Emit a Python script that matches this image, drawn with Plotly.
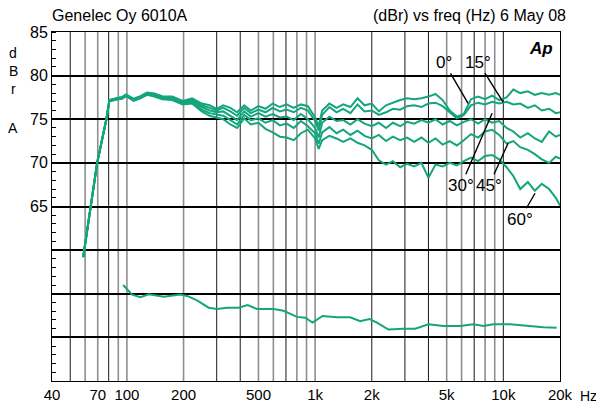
import numpy as np
import plotly.graph_objects as go

# ---------------- data ----------------
freq_hz = [58.6, 69.5, 77.8, 80.7, 88.7, 94.3, 99, 108.6, 118, 128, 140, 154, 174, 198, 222, 250, 275,
           300, 325, 355, 385, 420, 455, 500, 545, 595, 650, 705, 770, 840, 915, 1000, 1045, 1090,
           1190, 1300, 1410, 1540, 1680, 1830, 2000, 2180, 2380, 2590, 2830, 3080, 3360, 3670, 4000,
           4360, 4760, 5190, 5660, 6170, 6730, 7340, 8000, 8720, 9510, 10400, 11300, 12300, 13500,
           14700, 16000, 17500, 19000, 20000]

db_0deg = [59.2, 70.0, 75.0, 77.2, 77.45, 77.55, 77.85, 77.35, 77.65, 78.05, 77.95, 77.65, 77.6, 77.1, 77.4, 76.8, 76.6,
           76.2, 76.6, 76.3, 75.8, 76.6, 76.0, 76.5, 76.2, 76.8, 76.4, 76.7, 76.3, 76.7, 76.5, 75.2, 74.2, 76.0,
           76.8, 76.3, 76.7, 76.4, 77.4, 76.6, 76.8, 75.9, 76.6, 76.9, 77.2, 77.4, 77.3, 77.4, 77.6,
           77.9, 77.2, 76.0, 75.3, 75.6, 77.3, 77.6, 77.3, 77.7, 77.2, 77.5, 78.4, 78.0, 78.2,
           77.8, 78.0, 77.8, 78.0, 77.8]

db_15deg = [59.2, 70.0, 75.0, 77.2, 77.4, 77.5, 77.8, 77.3, 77.6, 78.0, 77.85, 77.55, 77.5, 77.0, 77.25, 76.6, 76.3,
            76.0, 76.3, 75.9, 75.4, 76.3, 75.7, 76.1, 75.8, 76.3, 75.9, 76.1, 75.8, 76.3, 76.0, 74.8, 73.7, 75.5,
            76.4, 75.8, 76.2, 75.7, 76.7, 75.9, 76.0, 75.5, 75.8, 76.2, 76.1, 76.5, 76.6, 76.4, 76.8,
            76.9, 76.5, 75.8, 75.1, 75.5, 76.6, 76.9, 76.7, 77.0, 76.8, 77.0, 76.7, 76.8, 76.3,
            76.6, 76.0, 76.2, 75.7, 75.8]

db_30deg = [59.2, 70.0, 75.0, 77.15, 77.35, 77.45, 77.75, 77.25, 77.55, 77.95, 77.8, 77.5, 77.4, 76.9, 77.1, 76.4, 76.0,
            75.8, 75.9, 75.4, 74.9, 75.9, 75.3, 75.7, 75.3, 75.6, 75.2, 75.3, 74.9, 75.6, 75.0, 74.0, 72.9, 74.6,
            75.3, 74.8, 74.9, 74.4, 75.0, 74.5, 74.2, 74.6, 74.0, 74.6, 74.2, 74.7, 74.5, 74.9, 74.6,
            75.0, 74.4, 74.8, 74.3, 74.7, 75.0, 74.5, 75.0, 74.6, 74.8, 74.0, 73.6, 72.9, 73.4,
            72.8, 72.4, 73.6, 73.0, 73.2]

db_45deg = [59.2, 70.0, 75.0, 77.1, 77.3, 77.4, 77.7, 77.2, 77.5, 77.9, 77.7, 77.4, 77.3, 76.8, 76.95, 76.1, 75.7,
            75.5, 75.4, 74.9, 74.4, 75.5, 74.9, 75.1, 74.6, 74.9, 74.3, 74.5, 74.0, 74.8, 74.2, 73.4, 72.2, 73.5,
            74.1, 73.4, 73.8, 73.2, 73.7, 73.1, 72.8, 73.2, 72.5, 73.0, 72.6, 72.9, 72.4, 72.9, 72.3,
            72.8, 72.1, 72.5, 72.0, 72.6, 73.3, 72.9, 73.6, 73.8, 73.2, 72.2, 72.5, 71.8, 71.5,
            71.0, 70.4, 70.0, 70.7, 70.5]

db_60deg = [59.2, 70.0, 75.0, 77.05, 77.25, 77.35, 77.65, 77.1, 77.4, 77.8, 77.6, 77.3, 77.2, 76.7, 76.8, 75.9, 75.4,
            75.2, 75.0, 74.4, 74.0, 75.1, 74.4, 74.6, 73.9, 73.5, 73.0, 72.9, 72.6, 73.4, 73.8, 72.8, 71.6, 72.6,
            73.1, 72.8, 72.4, 72.8, 72.3, 72.0, 71.5, 70.3, 69.8, 70.2, 69.5, 69.9, 69.6, 70.0, 68.3,
            69.8, 69.6, 70.0, 69.7, 70.2, 70.6, 70.2, 70.8, 70.9, 70.4, 69.5, 68.5, 67.0, 67.8,
            66.8, 67.6, 67.0, 66.0, 65.1]

lower_freq_hz = [95.5, 106.6, 118, 130.6, 156.8, 192.4, 208.8, 235.9, 271.9, 301.2, 340.4, 392.3, 438, 491.3,
                 601.7, 680, 800.8, 886.4, 969, 1095, 1306, 1536, 1736, 1945, 2129, 2453, 2947, 3401, 4000,
                 4805, 5893, 6933, 7836, 8852, 10860, 13320, 16310, 19200]
lower_db = [56.0, 54.9, 54.6, 54.95, 54.65, 54.9, 54.75, 54.25, 53.4, 53.25, 53.4, 53.4, 53.7, 53.25,
            53.25, 53.05, 52.35, 52.25, 51.7, 52.45, 52.3, 52.3, 51.85, 52.1, 51.7, 50.9, 51.0, 51.0, 51.5,
            51.3, 51.3, 51.5, 51.3, 51.5, 51.5, 51.3, 51.15, 51.1]

x_tick_vals = [40, 70, 100, 200, 500, 1000, 2000, 5000, 10000, 20000]
x_tick_text = ["40", "70", "100", "200", "500", "1k", "2k", "5k", "10k", "20k"]
y_tick_vals = [50, 55, 60, 65, 70, 75, 80, 85]
y_tick_text = ["", "", "", "65", "70", "75", "80", "85"]
grid_dark_hz = [50, 80, 300, 400, 700, 2000, 3000, 4000, 7000, 10000]
grid_light_hz = [60, 70, 90, 100, 200, 500, 600, 800, 900, 1000, 5000, 6000, 8000, 9000]

angle_labels = ["0°", "15°", "30°", "45°", "60°"]
label_tip_hz = [6497, 9967, 8716, 10597, 14737]
label_tip_db = [76.83, 76.95, 75.69, 72.25, 66.52]
label_dx = [-24, -25, -31, -19, -15]
label_dy = [-41, -40, 72, 42, 26]

# ---------------- figure ----------------
GREEN = "#14a57c"
FONT = "Liberation Sans, Arial, sans-serif"

fig = go.Figure()
for ys in [db_60deg, db_45deg, db_30deg, db_15deg, db_0deg]:
    fig.add_trace(go.Scatter(x=freq_hz, y=ys, mode="lines",
                             line=dict(color=GREEN, width=2), hoverinfo="skip"))
fig.add_trace(go.Scatter(x=lower_freq_hz, y=lower_db, mode="lines",
                         line=dict(color=GREEN, width=2), hoverinfo="skip"))

shapes = []
for f in grid_light_hz:
    shapes.append(dict(type="line", xref="x", yref="paper", x0=f, x1=f, y0=0, y1=1,
                       line=dict(color="#8f8f8f", width=1.6), layer="below"))
for f in grid_dark_hz:
    shapes.append(dict(type="line", xref="x", yref="paper", x0=f, x1=f, y0=0, y1=1,
                       line=dict(color="#1a1a1a", width=1), layer="below"))

annotations = []
for lab, fx, fy, dx, dy in zip(angle_labels, label_tip_hz, label_tip_db, label_dx, label_dy):
    annotations.append(dict(x=np.log10(fx), y=fy, xref="x", yref="y", text=lab,
                            showarrow=True, arrowhead=0, arrowwidth=1.4, arrowcolor="black",
                            ax=dx, ay=dy, standoff=0,
                            font=dict(family=FONT, size=17, color="black")))

def txt(s, x, y, xa="center", size=15, **kw):
    annotations.append(dict(text=s, x=x, y=y, xref="paper", yref="paper", showarrow=False,
                            xanchor=xa, yanchor="middle",
                            font=dict(family=FONT, size=size, color="black"), **kw))

txt("Genelec Oy 6010A", -0.004, 1.046, xa="left", size=16)
txt("(dBr) vs freq (Hz) 6 May 08", 1.016, 1.046, xa="right", size=16)
txt("<b><i>Ap</i></b>", 0.963, 0.954, size=17)
txt("Hz", 1.056, -0.043, size=14)
for letter, yy in zip(["d", "B", "r", "A"], [0.941, 0.887, 0.838, 0.726]):
    txt(letter, -0.076, yy, size=14)

# the page body adds an 8 px offset, so the figure is 8 px smaller and margins shifted
fig.update_layout(
    width=596, height=395,
    margin=dict(l=44, r=44, t=24, b=22, autoexpand=False),
    paper_bgcolor="white", plot_bgcolor="white",
    showlegend=False,
    shapes=shapes, annotations=annotations,
    font=dict(family=FONT, size=15, color="black"),
    xaxis=dict(type="log", range=[np.log10(40), np.log10(20000)],
               tickmode="array", tickvals=x_tick_vals, ticktext=x_tick_text,
               showgrid=False, zeroline=False, showline=True, linecolor="black",
               linewidth=1, mirror=True, ticks="", automargin=False,
               tickfont=dict(family=FONT, size=15, color="black")),
    yaxis=dict(range=[45, 85], tickmode="array", tickvals=y_tick_vals, ticktext=y_tick_text,
               showgrid=True, gridcolor="black", gridwidth=1.5, zeroline=False,
               showline=True, linecolor="black", linewidth=1, mirror=True, ticks="",
               automargin=False,
               tickfont=dict(family=FONT, size=16, color="black"),
               minor=dict(tickmode="array", tickvals=list(range(45, 86)), ticks="inside",
                          ticklen=4, tickcolor="black", tickwidth=1, showgrid=False)),
)

fig.write_html("out.html")
